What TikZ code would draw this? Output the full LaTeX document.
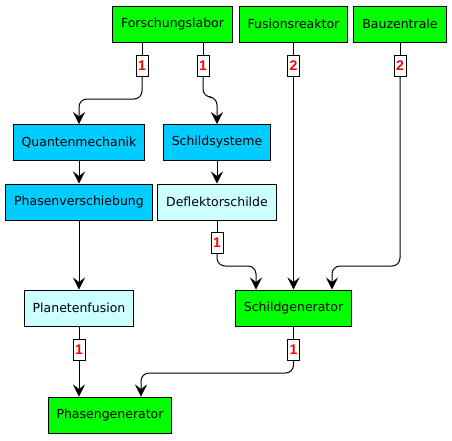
\documentclass[tikz,border=0pt]{standalone}
\usepackage{fontspec}
\setmainfont{DejaVu Sans}
\newfontfamily\countfont{Liberation Sans}
\usepackage{tikz}
\usetikzlibrary{
  arrows.meta,
  positioning
}
\definecolor{techgreen}{RGB}{0,255,0}
\definecolor{techblue}{RGB}{0,204,255}
\definecolor{techcyan}{RGB}{204,255,255}
\tikzset{
  techBase/.style={
    rectangle,
    draw=black,
    line width=1pt,
    minimum height=36pt,
    inner xsep=8.5pt,
    font=\fontsize{12.5}{14}\selectfont
  },
  techBuilding/.style={
    techBase,
    fill=techgreen
  },
  techResearch/.style={
    techBase,
    fill=techblue
  },
  techModule/.style={
    techBase,
    fill=techcyan
  },
  techCount/.style={
    rectangle,
    draw=black,
    fill=white,
    line width=0.8pt,
    minimum width=12pt,
    minimum height=21pt,
    inner sep=0pt,
    text=red,
    font=\countfont\bfseries\fontsize{14}{14}\selectfont
  },
  techLine/.style={
    line width=1pt
  },
  techArrow/.style={
    -{Stealth[length=12pt, width=12pt, inset=4.5pt]},
    line width=1pt,
    rounded corners=8pt
  }
}

\begin{document}
\begin{tikzpicture}[x=1pt, y=-1pt]
  \useasboundingbox (0,0) rectangle (452,440);

  % top row
  \node[techBuilding] (labor) at (172.5,24) {Forschungslabor};
  \node[techBuilding] (reaktor) at (293.5,24) {Fusionsreaktor};
  \node[techBuilding] (zentrale) at (400,24) {Bauzentrale};

  % research
  \node[techResearch] (quanten) at (79,142.5) {Quantenmechanik};
  \node[techResearch] (schildsys) at (217,142.5) {Schildsysteme};
  \node[techResearch] (verschiebung) at (79,202) {Phasenverschiebung};
  \node[techModule] (deflektor) at (217,202) {Deflektorschilde};
  \node[techModule] (fusion) at (79,308) {Planetenfusion};
  \node[techBuilding] (schildgen) at (293.5,308) {Schildgenerator};
  \node[techBuilding] (phasengen) at (110,415) {Phasengenerator};

  % counts
  \node[techCount] (cntA) at (142,66) {1};
  \node[techCount] (cntB) at (203,66) {1};
  \node[techCount] (cntC) at (293.5,66) {2};
  \node[techCount] (cntD) at (400,66) {2};
  \node[techCount] (cntE) at (217,243) {1};
  \node[techCount] (cntF) at (79,350) {1};
  \node[techCount] (cntG) at (293.5,350) {1};

  \draw[techLine] (labor.south -| cntA) -- (cntA);
  \draw[techArrow] (cntA.south) -- (cntA |- 0,99) -| (quanten.north);

  \draw[techLine] (labor.south -| cntB) -- (cntB);
  \draw[techArrow] (cntB.south) -- (cntB |- 0,97) -| (schildsys.north);

  \draw[techLine] (reaktor) -- (cntC);
  \draw[techArrow] (cntC) -- (schildgen);

  \draw[techLine] (zentrale) -- (cntD);
  \draw[techArrow] (cntD.south) -- (cntD |- 0,266)
    -| ([xshift=38.5pt]schildgen.north);

  \draw[techArrow] (quanten) -- (verschiebung);
  \draw[techArrow] (schildsys) -- (deflektor);
  \draw[techArrow] (verschiebung) -- (fusion);

  \draw[techLine] (deflektor) -- (cntE);
  \draw[techArrow] (cntE.south) -- (cntE |- 0,266)
    -| ([xshift=-37.5pt]schildgen.north);

  \draw[techLine] (fusion) -- (cntF);
  \draw[techArrow] (cntF.south) -- (cntF.south |- phasengen.north);

  \draw[techLine] (schildgen) -- (cntG);
  \draw[techArrow] (cntG.south) -- (cntG |- 0,373)
    -| ([xshift=31pt]phasengen.north);
\end{tikzpicture}
\end{document}
